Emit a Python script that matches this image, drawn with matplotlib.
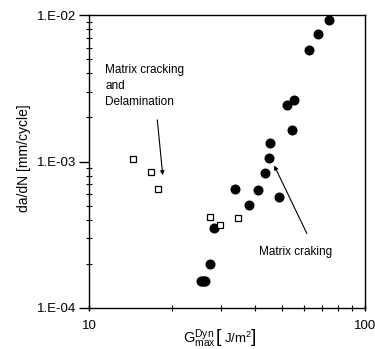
import matplotlib
matplotlib.use('Agg')
import matplotlib.pyplot as plt
from matplotlib.ticker import LogLocator, FixedLocator, NullFormatter

plt.rcParams['font.family'] = ['Liberation Sans', 'DejaVu Sans']
plt.rcParams['mathtext.fontset'] = 'custom'
plt.rcParams['mathtext.rm'] = 'Liberation Sans'
plt.rcParams['mathtext.it'] = 'Liberation Sans'

# matrix cracking (filled circles)
g_crack = [74.1, 67.7, 62.7, 55.2, 52.3, 54.5, 45.3, 44.8, 43.3, 48.9,
           41.0, 33.9, 37.9, 28.3, 27.4, 25.4, 25.7, 26.0, 26.3]
dadn_crack = [9.24e-3, 7.38e-3, 5.77e-3, 2.64e-3, 2.44e-3, 1.65e-3, 1.34e-3,
              1.06e-3, 8.35e-4, 5.72e-4, 6.42e-4, 6.52e-4, 5.02e-4, 3.50e-4,
              1.99e-4, 1.52e-4, 1.52e-4, 1.53e-4, 1.53e-4]

# matrix cracking and delamination (open squares)
g_delam = [14.4, 16.8, 17.8, 27.5, 29.8, 34.6]
dadn_delam = [1.045e-3, 8.44e-4, 6.52e-4, 4.20e-4, 3.69e-4, 4.13e-4]

yticks = [1e-4, 1e-3, 1e-2]
ytick_labels = ['1.E-04', '1.E-03', '1.E-02']
xticks = [10, 100]
xtick_labels = ['10', '100']

W, H = 375, 349
fig = plt.figure(figsize=(3.75, 3.49), dpi=100)
ax = fig.add_axes([89 / W, 1 - 308 / H, 276 / W, 293 / H])

ax.plot(g_crack, dadn_crack, 'o', color='black', markersize=6.2, zorder=3)
ax.plot(g_delam, dadn_delam, 's', markerfacecolor='white', markeredgecolor='black',
        markersize=5.0, markeredgewidth=0.9, zorder=3)

ax.set_xscale('log')
ax.set_yscale('log')
ax.set_xlim(10, 100)
ax.set_ylim(1e-4, 1e-2)

ax.yaxis.set_major_locator(FixedLocator(yticks))
ax.set_yticklabels(ytick_labels)
ax.yaxis.set_minor_locator(LogLocator(base=10, subs=range(2, 10)))
ax.yaxis.set_minor_formatter(NullFormatter())
ax.xaxis.set_major_locator(FixedLocator(xticks))
ax.set_xticklabels(xtick_labels)
ax.xaxis.set_minor_locator(LogLocator(base=10, subs=range(2, 10)))
ax.xaxis.set_minor_formatter(NullFormatter())

ax.tick_params(axis='y', which='major', direction='out', length=7, width=1, labelsize=9.5, pad=2)
ax.tick_params(axis='y', which='minor', direction='inout', length=5, width=0.8)
ax.tick_params(axis='x', which='major', direction='inout', length=5, width=1, labelsize=9.5, pad=6)
ax.tick_params(axis='x', which='minor', direction='inout', length=4, width=0.8)
for s in ax.spines.values():
    s.set_linewidth(1)

ax.set_ylabel('da/dN [mm/cycle]', fontsize=10)
ax.yaxis.set_label_coords(-0.21, 0.512)

# x label built from pieces so the brackets can be taller than the text
yb = 1 - 343 / H
fig.text(183 / W, yb, r'$\mathrm{G}_{\mathrm{max}}^{\mathrm{Dyn}}$', fontsize=10.5, ha='left', va='baseline')
fig.text(216 / W, yb + 0.002, '[', fontsize=14, ha='left', va='baseline')
fig.text(224 / W, yb, r'J/m$^{2}$', fontsize=9.5, ha='left', va='baseline')
fig.text(251 / W, yb + 0.002, ']', fontsize=14, ha='left', va='baseline')

ax.text(11.43, 3.28e-3, 'Matrix cracking\nand\nDelamination', fontsize=8.5,
        ha='left', va='center', linespacing=1.45)
ax.annotate('', xy=(18.54, 7.72e-4), xytext=(17.64, 2.01e-3),
            arrowprops=dict(arrowstyle='-|>', color='black', lw=0.8, mutation_scale=6))

ax.text(41.3, 2.42e-4, 'Matrix craking', fontsize=8.5, ha='left', va='center')
ax.annotate('', xy=(46.4, 9.77e-4), xytext=(62.2, 3.10e-4),
            arrowprops=dict(arrowstyle='-|>', color='black', lw=0.8, mutation_scale=6))

fig.savefig('out.png', dpi=100)
